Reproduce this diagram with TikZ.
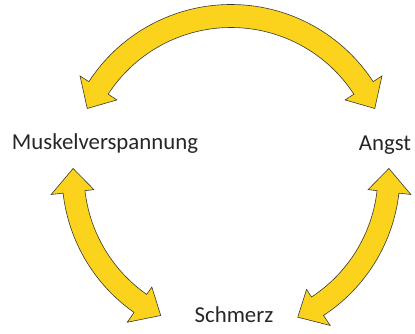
\documentclass[tikz,border=0pt]{standalone}
\usepackage{fontspec}
\setmainfont{Carlito}
\definecolor{arrowyellow}{HTML}{FCD31C}
\definecolor{arrowline}{HTML}{3A3A30}
\begin{document}
\begin{tikzpicture}[x=1pt,y=1pt,
  bigarrow/.style={fill=arrowyellow,draw=arrowline,line width=0.6pt,line join=miter},
  label/.style={inner sep=0pt,anchor=base,font=\fontsize{22.8}{25}\selectfont,text=black!85}]
\useasboundingbox (0,0) rectangle (415,333);
\coordinate (C) at (231,159);
% top arrow
\draw[bigarrow,shift={(C)}] (24.5:158) -- (33:180) -- (33:169.5) arc[start angle=33,end angle=147,radius=169.5]
  -- (147:180) -- (155.5:158) -- (147:136) -- (147:146.5) arc[start angle=147,end angle=33,radius=146.5]
  -- (33:136) -- cycle;
% lower left arrow
\draw[bigarrow,shift={(C)}] (178:158) -- (186.5:181) -- (186.5:169) arc[start angle=186.5,end angle=235,radius=169]
  -- (235:181) -- (243.6:158) -- (235:138) -- (235:147) arc[start angle=235,end angle=186.5,radius=147]
  -- (186.5:138) -- cycle;
% lower right arrow
\draw[bigarrow,shift={(C)}] (2:158) -- (-6.5:181) -- (-6.5:169) arc[start angle=-6.5,end angle=-56.8,radius=169]
  -- (-56.8:181) -- (-65:158) -- (-56.8:138) -- (-56.8:147) arc[start angle=-56.8,end angle=-6.5,radius=147]
  -- (-6.5:138) -- cycle;
\node[label] (muskel) at (105,184) {Muskelverspannung};
\node[label] (angst) at (385,183) {Angst};
\node[label] (schmerz) at (234,11) {Schmerz};
\end{tikzpicture}
\end{document}
